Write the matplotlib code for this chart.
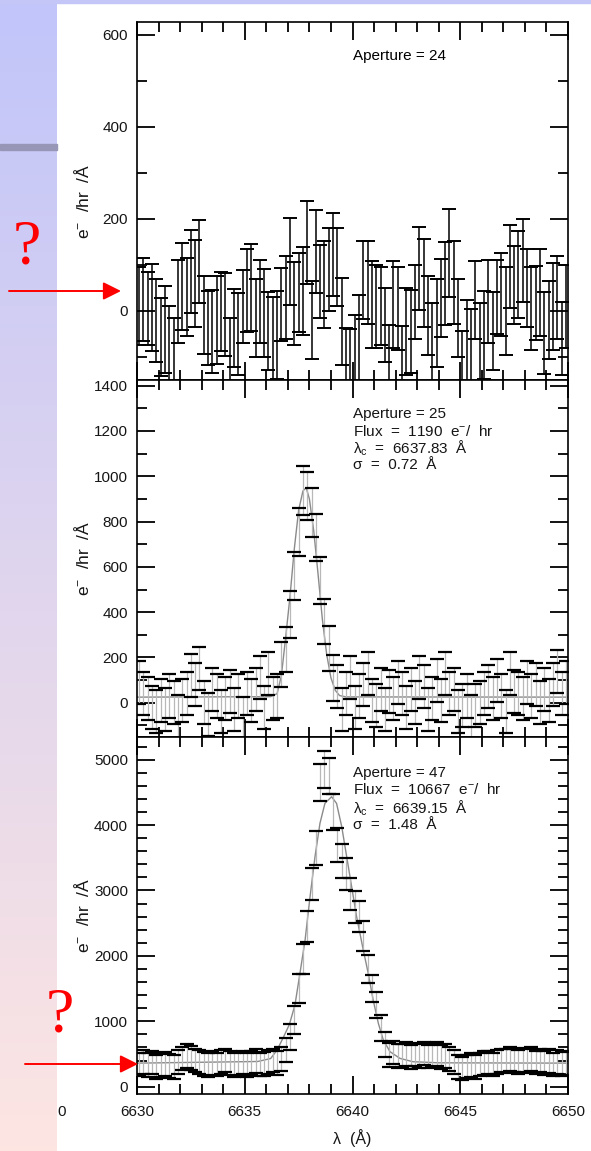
import numpy as np
import matplotlib.pyplot as plt
from matplotlib.patches import Rectangle, FancyArrowPatch
from matplotlib.ticker import MultipleLocator

plt.rcParams['font.family'] = ['Liberation Sans', 'DejaVu Sans']
plt.rcParams['mathtext.fontset'] = 'custom'
plt.rcParams['mathtext.rm'] = 'Liberation Sans'
plt.rcParams['mathtext.it'] = 'Liberation Sans:italic'

# wavelength grid (0.2 A bins)
lam = np.round(np.arange(6630.1, 6650.0, 0.2), 2)

# Aperture 24 - no line
flux24 = [10, 25, 5, 7, -20, -57, -40, -80, -95, 20,
          53, 30, 86, 60, 108, -8, -37, -44, -20, -1,
          -8, -110, -37, -50, 10, 44, 51, -15, 20, -4,
          -44, -60, -52, 14, 30, 108, 17, 40, 43, 148,
          -20, 130, 64, 57, 90, 122, 95, -23, -128, -120,
          -99, -60, 68, 61, 14, 10, 10, -30, -120, 14,
          5, -117, -44, -44, 20, 93, 61, -10, -73, -26,
          28, 60, 126, 61, -15, -124, -66, -90, 24, -73,
          -52, 21, -44, 30, 35, 0, 97, 57, 79, 110,
          50, 6, 17, 40, -48, -20, 10, 30, -60, 10]
err24 = [85, 90, 80, 95, 90, 85, 95, 90, 80, 90,
         95, 85, 90, 95, 90, 85, 80, 90, 95, 85,
         90, 95, 85, 90, 80, 90, 95, 85, 90, 95,
         85, 90, 95, 80, 90, 95, 90, 85, 95, 90,
         85, 90, 80, 95, 90, 90, 85, 95, 90, 80,
         90, 95, 85, 90, 95, 90, 85, 80, 90, 95,
         90, 85, 95, 90, 80, 90, 95, 85, 90, 95,
         85, 90, 95, 90, 85, 80, 90, 95, 85, 90,
         95, 90, 85, 80, 90, 95, 90, 85, 95, 90,
         85, 90, 80, 95, 90, 85, 95, 90, 80, 90]

# Aperture 25 - weak line
flux25 = [90, 40, 20, -20, -40, 10, -30, 30, 0, -60,
          10, 40, 120, 80, 150, 0, -50, 60, 30, -40,
          20, 50, -30, 30, -70, 40, 10, 60, 110, -20,
          130, 20, 30, 170, 236, 390, 560, 755, 937, 913,
          841, 729, 540, 360, 240, 110, 70, -30, 40, 110,
          -20, 30, 80, 130, 10, -10, 60, -30, 50, 20,
          90, 40, -20, 60, 0, 110, 70, -30, 20, 100,
          10, 130, 40, 60, -40, -10, 30, -60, -10, 0,
          40, 70, 20, 100, 30, -40, 130, 50, 40, 20,
          90, 30, 80, 0, 60, 10, 80, 140, 40, 90]
err25 = [95] * 33 + [100, 100, 105, 105, 105, 108, 108, 108, 105, 105, 100, 100, 100] + [95] * 54

fit25_x = [6630.0, 6636.2, 6636.5, 6636.7, 6636.9, 6637.1, 6637.3, 6637.5, 6637.7, 6637.85,
           6638.0, 6638.2, 6638.4, 6638.6, 6638.8, 6639.0, 6639.2, 6639.4, 6639.7, 6650.0]
fit25_y = [25, 27, 40, 120, 290, 470, 680, 850, 935, 950,
           900, 760, 570, 370, 215, 110, 55, 32, 26, 25]

# Aperture 47 - strong line
flux47 = [340, 380, 330, 370, 300, 330, 350, 320, 300, 380,
          430, 470, 440, 400, 380, 350, 330, 360, 340, 380,
          400, 360, 330, 350, 370, 330, 360, 390, 340, 350,
          380, 400, 360, 420, 560, 760, 1020, 1500, 1950, 2450,
          3100, 3650, 4650, 4850, 4750, 4200, 3700, 3450, 3250, 2950,
          2750, 2600, 2300, 1800, 1500, 1250, 900, 650, 480, 520,
          470, 480, 500, 450, 490, 470, 510, 460, 480, 500,
          450, 470, 420, 380, 300, 280, 310, 330, 300, 340,
          360, 370, 340, 380, 400, 390, 420, 400, 380, 410,
          390, 420, 370, 400, 360, 390, 340, 380, 350, 360]
err47 = [180] * 34 + [190, 200, 210, 220, 230, 240, 250, 260, 280, 285,
                      280, 270, 260, 255, 250, 245, 240, 235, 230, 220,
                      210, 200, 195, 190, 185] + [180] * 41

fit47_x = [6630.0, 6635.6, 6636.2, 6636.5, 6636.8, 6637.07, 6637.33, 6637.56, 6637.8, 6638.03,
           6638.26, 6638.49, 6638.72, 6639.03, 6639.26, 6639.5, 6639.73, 6639.96, 6640.19, 6640.5,
           6640.73, 6640.96, 6641.2, 6641.43, 6641.74, 6642.2, 6642.8, 6644.0, 6650.0]
fit47_y = [360, 385, 430, 560, 760, 950, 1250, 1730, 2243, 2905,
           3517, 4027, 4332, 4434, 4332, 3976, 3517, 3058, 2600, 2090,
           1733, 1325, 968, 713, 535, 433, 382, 365, 360]

labels24 = ["Aperture = 24"]
labels25 = ["Aperture = 25", "Flux  =  1190  e$^{-}$/  hr",
            "$\\mathrm{\\lambda_c}$  =  6637.83  Å", "σ  =  0.72  Å"]
labels47 = ["Aperture = 47", "Flux  =  10667  e$^{-}$/  hr",
            "$\\mathrm{\\lambda_c}$  =  6639.15  Å", "σ  =  1.48  Å"]

W, H = 591, 1151
fig = plt.figure(figsize=(W / 100, H / 100), dpi=100)
fig.patch.set_facecolor('white')

# slide background strip on the left
bg = fig.add_axes([0, 0, 57 / W, 1])
top_c = np.array([193, 197, 250]) / 255
bot_c = np.array([253, 229, 226]) / 255
t = np.linspace(0, 1, 256)[:, None]
grad = (top_c + t * (bot_c - top_c)).reshape(256, 1, 3)
bg.imshow(grad, aspect='auto', extent=[0, 1, 0, 1])
bg.axis('off')
fig.add_artist(Rectangle((0, 1 - 3 / H), 1, 3 / H, transform=fig.transFigure,
                         color='#c4c6f8', zorder=1))
fig.add_artist(Rectangle((0, 1 - 150 / H), 57 / W, 6 / H, transform=fig.transFigure,
                         color='#9896b6', zorder=1))

L = 137 / W
Wd = 431 / W
ax1 = fig.add_axes([L, 1 - 380 / H, Wd, 358 / H])
ax2 = fig.add_axes([L, 1 - 737 / H, Wd, 357 / H])
ax3 = fig.add_axes([L, 1 - 1094 / H, Wd, 357 / H])

# panel 1: all black
ax1.errorbar(lam, flux24, yerr=err24, fmt='none', ecolor='black',
             elinewidth=1.1, capsize=5, capthick=1.4)

# panels 2 and 3: gray bars, black caps, gray fit
for ax, fl, er, fx, fy in [(ax2, flux25, err25, fit25_x, fit25_y),
                           (ax3, flux47, err47, fit47_x, fit47_y)]:
    ax.plot(fx, fy, color='#8a8a8a', lw=1.0, zorder=1)
    eb = ax.errorbar(lam, fl, yerr=er, fmt='none', ecolor='#b8b8b8',
                     elinewidth=0.9, capsize=5, capthick=1.6)
    for cap in eb[1]:
        cap.set_color('black')
        cap.set_markeredgecolor('black')

ylims = [(-150, 628), (-151, 1425), (-112, 5347)]
majors = [200, 200, 1000]
minors = [100, 100, 200]
for ax, yl, mj, mn in zip([ax1, ax2, ax3], ylims, majors, minors):
    ax.set_xlim(6630, 6650)
    ax.set_ylim(*yl)
    ax.xaxis.set_major_locator(MultipleLocator(5))
    ax.xaxis.set_minor_locator(MultipleLocator(1))
    ax.yaxis.set_major_locator(MultipleLocator(mj))
    ax.yaxis.set_minor_locator(MultipleLocator(mn))
    ax.tick_params(which='both', direction='in', top=True, right=True,
                   labelsize=11, labelcolor='#151515', width=1.3)
    ax.tick_params(which='major', length=13, pad=6.5)
    ax.tick_params(which='minor', length=7)
    for sp in ax.spines.values():
        sp.set_linewidth(1.2)
    ax.set_ylabel('e$^{-}$  /hr  /Å', fontsize=12.5, color='#151515')
    ax.yaxis.set_label_coords(-0.105, 0.5)

ax1.tick_params(labelbottom=False)
ax2.tick_params(labelbottom=False)
ax3.tick_params(axis='x', pad=8)
ax3.set_xlabel('λ  (Å)', fontsize=11.5, labelpad=7, color='#151515')

# annotations inside the panels
ax1.text(0.501, 0.905, labels24[0], transform=ax1.transAxes, fontsize=11, va='center')
for i, s in enumerate(labels25):
    ax2.text(0.501, [0.905, 0.857, 0.8095, 0.762][i], s, transform=ax2.transAxes,
             fontsize=11, va='center', color='#151515')
for i, s in enumerate(labels47):
    ax3.text(0.501, [0.899, 0.852, 0.801, 0.7535][i], s, transform=ax3.transAxes,
             fontsize=11, va='center', color='#151515')

# leftover tick label at the slide edge
fig.text(62 / W, 1 - 1112 / H, '0', fontsize=11, ha='center', va='center', color='#151515')

# red question marks and arrows
fig.text(27 / W, 1 - 263 / H, '?', color='red', fontsize=46, family=['Liberation Serif'],
         ha='center', va='baseline')
fig.text(60 / W, 1 - 1032 / H, '?', color='red', fontsize=46, family=['Liberation Serif'],
         ha='center', va='baseline')
for x0, x1, y in [(9, 121, 291), (25, 138, 1064)]:
    fig.add_artist(FancyArrowPatch((x0 / W, 1 - y / H), (x1 / W, 1 - y / H),
                                   transform=fig.transFigure, arrowstyle='-|>',
                                   mutation_scale=27, color='red', lw=1.4,
                                   shrinkA=0, shrinkB=0, zorder=5))

fig.savefig('out.png', dpi=100)
plt.close()
